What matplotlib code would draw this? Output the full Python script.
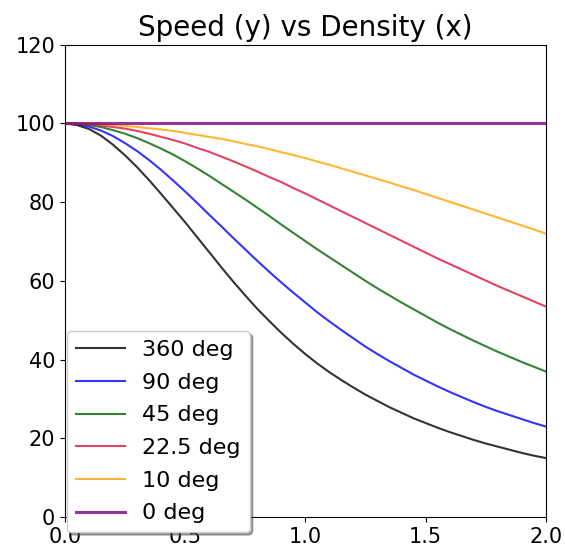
import matplotlib
matplotlib.use('Agg')
import matplotlib.pyplot as plt

density = [0.0, 0.05, 0.1, 0.15, 0.2, 0.25, 0.3, 0.35, 0.4, 0.45, 0.5,
           0.55, 0.6, 0.65, 0.7, 0.75, 0.8, 0.85, 0.9, 0.95, 1.0,
           1.05, 1.1, 1.15, 1.2, 1.25, 1.3, 1.35, 1.4, 1.45, 1.5,
           1.55, 1.6, 1.65, 1.7, 1.75, 1.8, 1.85, 1.9, 1.95, 2.0]

speed_360 = [100.0, 99.6, 98.6, 96.9, 94.6, 91.9, 88.9, 85.6, 82.1, 78.5, 74.9,
             71.1, 67.3, 63.5, 59.8, 56.3, 52.9, 49.8, 46.8, 44.0, 41.4,
             39.0, 36.8, 34.8, 32.9, 31.1, 29.5, 27.9, 26.5, 25.1, 23.9,
             22.7, 21.6, 20.6, 19.6, 18.7, 17.9, 17.1, 16.3, 15.6, 15.0]
speed_90 = [100.0, 99.8, 99.2, 98.2, 96.8, 95.0, 93.0, 90.7, 88.2, 85.5, 82.7,
            79.8, 76.8, 73.9, 70.9, 68.0, 65.1, 62.3, 59.6, 57.0, 54.5,
            52.0, 49.7, 47.5, 45.4, 43.3, 41.4, 39.6, 37.9, 36.2, 34.7,
            33.2, 31.8, 30.5, 29.2, 28.0, 26.9, 25.9, 24.9, 23.9, 23.0]
speed_45 = [100.0, 99.9, 99.6, 99.1, 98.3, 97.4, 96.3, 95.0, 93.6, 92.1, 90.4,
            88.6, 86.7, 84.7, 82.7, 80.7, 78.6, 76.5, 74.3, 72.2, 70.1,
            68.0, 66.0, 64.0, 62.0, 60.0, 58.1, 56.3, 54.5, 52.8, 51.1,
            49.4, 47.8, 46.3, 44.8, 43.4, 42.0, 40.7, 39.4, 38.2, 37.0]
speed_22_5 = [100.0, 99.9, 99.8, 99.5, 99.1, 98.7, 98.1, 97.4, 96.6, 95.8, 94.9,
              93.8, 92.8, 91.6, 90.4, 89.1, 87.8, 86.4, 85.1, 83.6, 82.2,
              80.7, 79.2, 77.7, 76.2, 74.7, 73.2, 71.7, 70.2, 68.7, 67.2,
              65.7, 64.3, 62.9, 61.5, 60.1, 58.7, 57.4, 56.1, 54.8, 53.5]
speed_10 = [100.0, 100.0, 99.9, 99.8, 99.6, 99.4, 99.1, 98.8, 98.5, 98.1, 97.6,
            97.1, 96.6, 96.1, 95.5, 94.8, 94.2, 93.5, 92.7, 92.0, 91.2,
            90.3, 89.5, 88.6, 87.7, 86.8, 85.9, 85.0, 84.0, 83.1, 82.1,
            81.1, 80.1, 79.1, 78.1, 77.1, 76.1, 75.1, 74.1, 73.1, 72.0]
speed_0 = [100.0] * len(density)

labels = ['360 deg', '90 deg', '45 deg', '22.5 deg', '10 deg', '0 deg']
colors = ['black', 'blue', 'darkgreen', 'crimson', 'orange', 'purple']
series = [speed_360, speed_90, speed_45, speed_22_5, speed_10, speed_0]

fig, ax = plt.subplots(figsize=(5.65, 5.46), dpi=100)
fig.subplots_adjust(left=0.115, right=0.966, top=0.918, bottom=0.053)

for speed, label, color in zip(series, labels, colors):
    lw = 2.2 if label == '0 deg' else 1.5
    ax.plot(density, speed, color=color, alpha=0.8, lw=lw, label=label)

ax.set_xlim(0, 2)
ax.set_ylim(0, 120)
ax.set_xticks([0.0, 0.5, 1.0, 1.5, 2.0])
ax.set_yticks([0, 20, 40, 60, 80, 100, 120])
ax.tick_params(labelsize=15)
ax.set_title('Speed (y) vs Density (x)', fontsize=20)
ax.legend(loc='lower left', bbox_to_anchor=(0.004, -0.032), borderaxespad=0,
          fontsize=16, shadow=True, labelspacing=0.57, handlelength=2.2)

plt.savefig('out.png')
